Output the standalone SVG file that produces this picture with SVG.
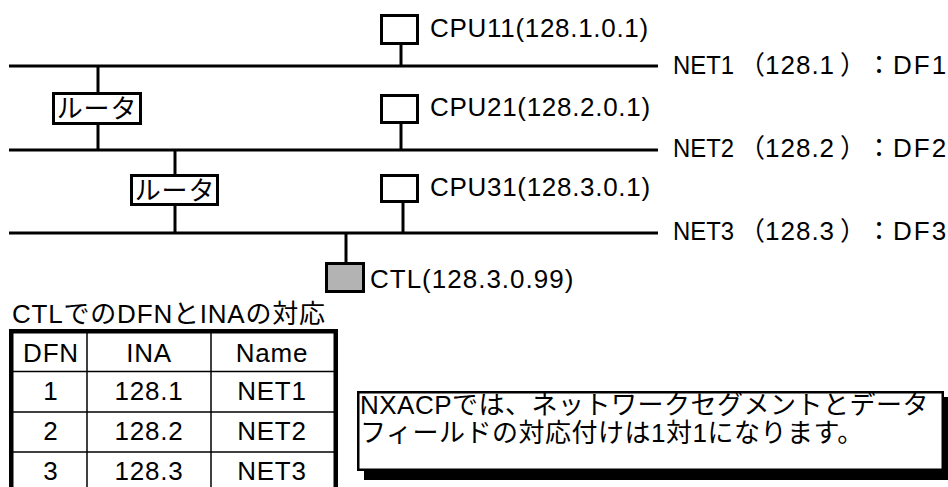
<svg xmlns="http://www.w3.org/2000/svg" width="948" height="487" viewBox="0 0 948 487">
<style>
  text { font-family: "Liberation Sans", "Noto Sans CJK JP", sans-serif; font-size: 26px; fill: #000; letter-spacing: 0.8px; }
  .lbl { letter-spacing: 0.7px; }
  .net { letter-spacing: 0; }
  .mid { text-anchor: middle; }
  .wire { stroke: #000; stroke-width: 3; fill: none; }
  .box { fill: #fff; stroke: #000; stroke-width: 3; }
  .ctl { fill: #b3b3b3; stroke: #000; stroke-width: 3; }
  .thin { stroke: #000; stroke-width: 1.5; fill: none; }
</style>
<rect width="948" height="487" fill="#fff"/>
<g id="connectors">
  <line class="wire" x1="9" y1="66" x2="658" y2="66"/>
  <line class="wire" x1="9" y1="150" x2="658" y2="150"/>
  <line class="wire" x1="9" y1="233" x2="658" y2="233"/>
  <line class="wire" x1="401" y1="44" x2="401" y2="66"/>
  <line class="wire" x1="401" y1="123" x2="401" y2="150"/>
  <line class="wire" x1="403" y1="202" x2="403" y2="233"/>
  <line class="wire" x1="98" y1="66" x2="98" y2="92"/>
  <line class="wire" x1="98" y1="125" x2="98" y2="150"/>
  <line class="wire" x1="175" y1="150" x2="175" y2="174"/>
  <line class="wire" x1="175" y1="206" x2="175" y2="233"/>
  <line class="wire" x1="346" y1="233" x2="346" y2="262"/>
</g>
<g id="net1-label"><text class="net" y="74"><tspan x="673" textLength="61" lengthAdjust="spacingAndGlyphs">NET1</tspan><tspan x="739">（</tspan><tspan x="765" style="letter-spacing:1px">128.1</tspan><tspan x="840">）</tspan><tspan x="866">：</tspan><tspan x="893" style="letter-spacing:2px">DF1</tspan></text></g>
<g id="net2-label"><text class="net" y="157"><tspan x="673" textLength="61" lengthAdjust="spacingAndGlyphs">NET2</tspan><tspan x="739">（</tspan><tspan x="765" style="letter-spacing:1px">128.2</tspan><tspan x="840">）</tspan><tspan x="866">：</tspan><tspan x="893" style="letter-spacing:2px">DF2</tspan></text></g>
<g id="net3-label"><text class="net" y="240"><tspan x="673" textLength="61" lengthAdjust="spacingAndGlyphs">NET3</tspan><tspan x="739">（</tspan><tspan x="765" style="letter-spacing:1px">128.3</tspan><tspan x="840">）</tspan><tspan x="866">：</tspan><tspan x="893" style="letter-spacing:2px">DF3</tspan></text></g>
<g id="cpu11">
  <rect class="box" x="381.5" y="15.5" width="36" height="28"/>
  <text class="lbl" x="430" y="37">CPU11(128.1.0.1)</text>
</g>
<g id="cpu21">
  <rect class="box" x="381.5" y="95.5" width="36" height="27"/>
  <text class="lbl" x="430" y="116">CPU21(128.2.0.1)</text>
</g>
<g id="cpu31">
  <rect class="box" x="381.5" y="175.5" width="36" height="26"/>
  <text class="lbl" x="430" y="196">CPU31(128.3.0.1)</text>
</g>
<g id="router1">
  <rect class="box" x="53.5" y="93.5" width="87" height="30"/>
  <text class="mid" x="97" y="118">ルータ</text>
</g>
<g id="router2">
  <rect class="box" x="131.5" y="175.5" width="86" height="29"/>
  <text class="mid" x="175" y="200">ルータ</text>
</g>
<g id="ctl">
  <rect class="ctl" x="326.5" y="263.5" width="37" height="28"/>
  <text x="370" y="288" style="letter-spacing:1px">CTL(128.3.0.99)</text>
</g>
<g id="table">
  <text x="12" y="323">CTLでのDFNとINAの対応</text>
  <rect x="11.25" y="331.25" width="324.5" height="170" fill="#fff" stroke="#000" stroke-width="4.5"/>
  <line class="thin" x1="87" y1="331" x2="87" y2="500"/>
  <line class="thin" x1="211" y1="331" x2="211" y2="500"/>
  <line class="thin" x1="12" y1="371.5" x2="335" y2="371.5"/>
  <line class="thin" x1="12" y1="412" x2="335" y2="412"/>
  <line class="thin" x1="12" y1="452" x2="335" y2="452"/>
  <text class="mid" x="51" y="362">DFN</text>
  <text class="mid" x="149" y="362">INA</text>
  <text class="mid" x="272" y="362">Name</text>
  <text class="mid" x="51" y="400">1</text>
  <text class="mid" x="149" y="400">128.1</text>
  <text class="mid" x="272" y="400">NET1</text>
  <text class="mid" x="51" y="440">2</text>
  <text class="mid" x="149" y="440">128.2</text>
  <text class="mid" x="272" y="440">NET2</text>
  <text class="mid" x="51" y="480">3</text>
  <text class="mid" x="149" y="480">128.3</text>
  <text class="mid" x="272" y="480">NET3</text>
</g>
<g id="note">
  <rect x="364" y="397" width="587" height="83" fill="#000"/>
  <rect x="358.25" y="392.25" width="584.5" height="77.5" fill="#fff" stroke="#000" stroke-width="2.5"/>
  <text x="360" y="414" style="letter-spacing:0.5px">NXACPでは、ネットワークセグメントとデータ</text>
  <text x="360" y="442" style="letter-spacing:0.5px">フィールドの対応付けは1対1になります。</text>
</g>
</svg>
